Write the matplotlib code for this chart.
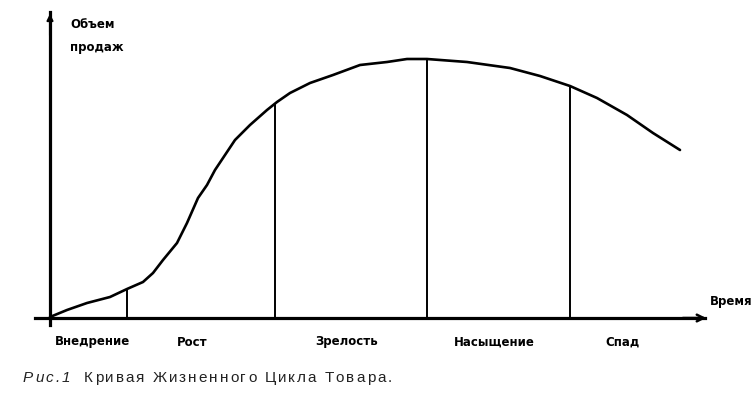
import matplotlib.pyplot as plt

# product life cycle curve (time from origin, sales above x axis)
time = [0, 17, 37, 60, 77, 93, 103, 113, 127, 137, 148, 157, 165, 177, 185, 200, 217, 227,
        240, 260, 283, 310, 337, 357, 377, 417, 460, 490, 520, 547, 577, 603, 630]
sales = [1, 8, 15, 21, 29, 36, 45, 58, 75, 95, 120, 133, 148, 166, 178, 193, 208, 216,
         225, 235, 243, 253, 256, 259, 259, 256, 250, 242, 232, 220, 203, 185, 168]

# stage boundaries and where they meet the curve
bounds = [77, 225, 377, 520]
bound_sales = [29, 215, 259, 232]

stages = ['Внедрение', 'Рост', 'Зрелость', 'Насыщение', 'Спад']
stage_x = [42, 142, 297, 444, 572]

caption = [('Рис.1', 'italic'), ('Кривая Жизненного Цикла Товара.', 'normal')]

fig = plt.figure(figsize=(7.54, 4.13), dpi=100)
ax = fig.add_axes([0, 0, 1, 1])
ax.set_xlim(-50, 704)
ax.set_ylim(-95, 318)
ax.axis('off')

ax.plot(time, sales, color='black', lw=1.9, solid_capstyle='round', solid_joinstyle='round')
ax.vlines(bounds, 0, bound_sales, color='black', lw=1.4)

# axes with arrows
ax.plot([0, 0], [-7, 306], color='black', lw=2.3)
ax.annotate('', xy=(0, 307), xytext=(0, 280),
            arrowprops=dict(arrowstyle='-|>', color='black', lw=1.5, mutation_scale=9))
ax.plot([-15, 655], [0, 0], color='black', lw=2.3)
ax.annotate('', xy=(659, 0), xytext=(630, 0),
            arrowprops=dict(arrowstyle='->', color='black', lw=1.8, mutation_scale=12))

ax.text(20, 293, 'Объем', fontsize=8.5, fontweight='bold', va='center', ha='left')
ax.text(20, 270, 'продаж', fontsize=8.5, fontweight='bold', va='center', ha='left')
ax.text(660, 16, 'Время', fontsize=8.5, fontweight='bold', va='center', ha='left')

for s, x in zip(stages, stage_x):
    ax.text(x, -24, s, fontsize=8.5, fontweight='bold', va='center', ha='center')

# letter-spaced caption
renderer = fig.canvas.get_renderer()
px = 23
for i, (part, st) in enumerate(caption):
    if i > 0:
        px += 12
    for ch in part:
        if ch == ' ':
            px += 6
            continue
        t = fig.text(px / 754, 1 - 378 / 413, ch, fontsize=11, style=st, color='#222222',
                     va='center', ha='left', family='Liberation Sans')
        px += t.get_window_extent(renderer).width + 2

fig.savefig('out.png', dpi=100, facecolor='white')
